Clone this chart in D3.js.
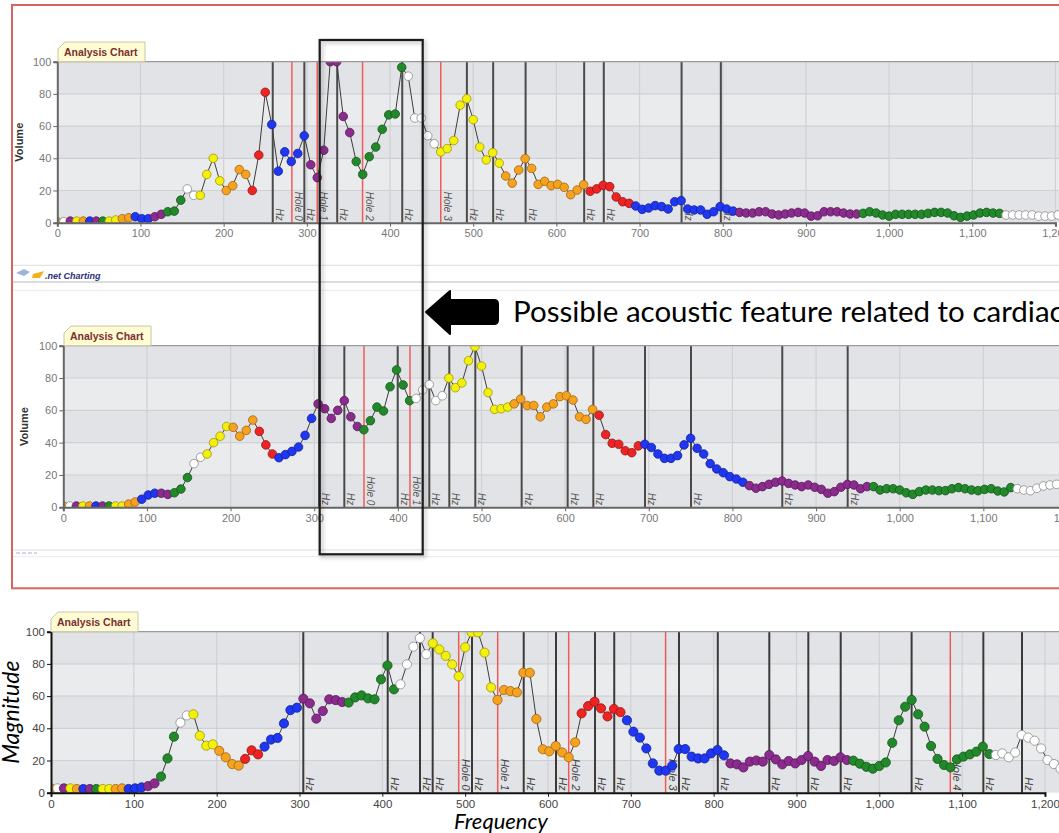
<!DOCTYPE html>
<html><head><meta charset="utf-8">
<script src="https://cdn.jsdelivr.net/npm/d3@7"></script>
<style>
body{margin:0;background:#fff;}
svg{display:block;}
</style></head>
<body>
<svg id="chart" width="1059" height="833"></svg>
<script>
// ---------------- DATA ----------------
const binStepHz = 7.8125;
const pointClass = ["OWPYOBPGYYOOBBBPPGGGWW","YYYY","OOOO","RRR","BBBBBB","PPPPPPP","GGGGGGGG","WWWWW",
  "YYYYYYYYYY","OOOOOOOOOOOOO","RRRRRRR","BBBBBBBBBBBBBBBB","PPPPPPPPPPPPPPPPPPP",
  "GGGGGGGGGGGGGGGGGGGGGG","WWWWWWWWWWW"].join("").split("");

const volume1 = [0.6,0.6,1,1,1,1,1,1,1,1.7,2.5,3.1,3.7,2.5,2.5,3.7,5.2,6.8,7.2,14,
  21,17,17,30,40,26,20,23,33,30,20,42,81,61,32,44,38,43,54,36,
  28,45,100,100,66,56,38,30,41,47,58,67,67.5,96.5,91,65,65,54,49,44,
  46,51,73,77,64,47,39,43.5,37,29,24.6,32.7,39.8,33.7,23.8,25.7,23,23.8,22,17.4,
  20.3,23.6,19.5,21,23.2,22.4,16,13,12,10.4,8.3,9.1,10.6,10,8.5,13,13.7,8.5,7.9,7.9,
  5.2,6.8,10,8.5,7.2,6.4,6,6,6.8,6.8,5.4,4.8,5.4,6,6.4,6,4.1,4.3,6.8,6.8,
  6.8,6,5.4,5.4,5.8,6.8,6,4.8,4.1,5.2,5.2,5.2,5.2,5.2,5.8,6.4,6.4,6,4.3,3.3,
  4.1,4.8,6,6.4,6,5.8,4.8,4.8,4.8,4.8,4.8,4.1,4.1,4.1,4.8];

const volume2 = [0.8,0.8,0.8,0.8,0.8,0.8,0.8,0.8,0.8,0.8,2,3.3,5,7.6,8.7,8.7,8,9,11.3,18.4,
  27,31,33,40,44,50,49.5,44,47.6,54,47,38.6,33,30.7,32.6,34.6,37.3,44.5,55,64,
  61,55,60,66,56,50,48,53.6,62,59.6,74.6,85,75.7,66,67.4,72.6,76,66,69,80,
  74,77,90.7,99.4,87.4,71,60.6,61,62,64,67,63,63,56,62,64,68.5,69,66.4,56,
  54.4,60.6,57,45,39.6,39,35,33.8,38,39,37,33,30.3,30.3,32,38.6,42.7,36.5,33,27,
  23.7,21.4,19,17.5,15.5,13.4,11.8,12.8,14.2,15.5,16.3,14.8,13.8,12.8,13.8,12.4,11.1,8.7,9.7,12.4,
  14.2,13.8,11.5,12.8,12.8,10.7,11.5,11.5,10.7,9,8,9.7,10.7,10.7,10.3,10.3,11.5,12.2,11.5,10.7,
  10.3,11.1,11.5,10.1,9.5,12.2,11.5,10.7,10.3,11.8,13.2,13.8,14.2];

const magnitude3 = [2.7,2.7,2.7,2.7,2.3,2.3,2.3,2.3,2.3,2.3,2.3,2.7,2.3,2.7,3.3,4.1,5.8,10,21.3,34.8,
  43.5,48,48.7,35.4,29.2,30,26,22,17.8,16.8,21,26.3,23.8,28.6,33,34,43,51.3,52.8,58.4,
  55.5,46,50.7,58,57.5,56.3,56,59.2,60.4,58.6,58,70.4,79,64.2,67.3,79.7,90.7,96,86,92.8,
  89,85,79.7,72.3,90.3,99.6,99.6,87,65.4,57.6,63.8,63.1,62.3,74.5,74.5,45.8,27,25.7,29,25,
  22,31.3,49.3,53.8,56.5,52.4,47.4,52,50,45,37.9,34.2,27.5,18.2,13.7,13.7,16.8,27.1,27.1,22.4,
  21.3,21.3,24.4,26.5,23.2,18.2,17.6,15.7,19.3,20,19.3,23.4,20.7,17.6,19.7,18.2,20.3,22.8,19.3,16.6,
  20.3,19.7,22,20.3,19.9,18,16.1,14.9,16.6,18.8,31,45,53.4,57.6,48.7,41,29,21,17.2,15.7,
  20.7,22.4,23.8,25.5,28.6,24,23.4,24.4,22,25,35.8,34.2,32.3,27.5,20.3,17.8,15];

const markers1Hz = [259,282,297,312.5,336.5,367,414.7,461,492.4,524,563,633.4,657,750.5,797.7];
const markers1Label = ["Hz","Hole 0","Hz","Hole 1","Hz","Hole 2","Hz","Hole 3","Hz","Hz","Hz","Hz","Hz","Hz","Hz"];
const markers2Hz = [306,336,359.5,399.8,414.5,437.6,461.5,492.6,548,603,633.7,695.5,750.5,859.6,937.8];
const markers2Label = ["Hz","Hz","Hole 0","Hz","Hole 1","Hz","Hz","Hz","Hz","Hz","Hz","Hz","Hz","Hz","Hz"];
const markers3Hz = [304.6,406.5,445.5,460.8,492.2,508.3,539.3,570.7,609.7,625,656.8,680,742,758.2,805,867.2,914.3,953.4,1039,1085.7,1125.6,1172.3];
const markers3Label = ["Hz","Hz","Hz","Hz","Hole 0","Hz","Hole 1","Hz","Hz","Hole 2","Hz","Hz","Hole 3","Hz","Hz","Hz","Hz","Hz","Hz","Hole 4","Hz","Hz"];

const yTicks = [0,20,40,60,80,100];
const xTicks = [0,100,200,300,400,500,600,700,800,900,1000,1100,1200];
const tabTitle = "Analysis Chart";
const annotation = "Possible acoustic feature related to cardiac";

// ---------------- STYLE / LAYOUT ----------------
const classColor = {O:"#f7a21e",W:"#ffffff",P:"#8b2b8d",Y:"#f4f00c",B:"#1f36f2",G:"#22892b",R:"#ee2323"};
const svg = d3.select("#chart");
const defs = svg.append("defs");
const sh = defs.append("filter").attr("id","shadow").attr("x","-10%").attr("y","-10%").attr("width","130%").attr("height","130%");
sh.append("feDropShadow").attr("dx",2).attr("dy",2).attr("stdDeviation",2).attr("flood-color","#000").attr("flood-opacity",0.3);

const panels = [
  {values:volume1, mHz:markers1Hz, mLab:markers1Label, left:57.3, top:61.7, bottom:222.7, pxPerHz:0.8318,
   tabX:58, tabTop:42, yTitle:"Volume", yTitleX:19.5, r:4.3, tickColor:"#777", tickSize:11, axisColor:"#666", labSize:10, labColor:"#555", hzColor:"#4a4a4a"},
  {values:volume2, mHz:markers2Hz, mLab:markers2Label, left:63.3, top:345.7, bottom:507.3, pxPerHz:0.8364,
   tabX:64, tabTop:326, yTitle:"Volume", yTitleX:24.5, r:4.3, tickColor:"#777", tickSize:11, axisColor:"#666", labSize:10, labColor:"#555", hzColor:"#4a4a4a"},
  {values:magnitude3, mHz:markers3Hz, mLab:markers3Label, left:51, top:631.7, bottom:792.7, pxPerHz:0.8283,
   tabX:51, tabTop:612, yTitle:null, r:4.6, tickColor:"#444", tickSize:11.5, axisColor:"#111", labSize:11, labColor:"#444", hzColor:"#3a3a3a"}
];

panels.forEach((p,pi)=>{
  const right = 1120;
  const x = d3.scaleLinear().domain([0,1200]).range([p.left, p.left + 1200*p.pxPerHz]);
  const y = d3.scaleLinear().domain([0,100]).range([p.bottom, p.top]);
  const g = svg.append("g");
  const clipId = "clip"+pi;
  defs.append("clipPath").attr("id",clipId).append("rect")
    .attr("x",p.left).attr("y",p.top).attr("width",right-p.left).attr("height",p.bottom-p.top);

  // bands
  g.selectAll(".band").data(d3.range(0,100,20)).join("rect")
    .attr("x",p.left).attr("width",right-p.left)
    .attr("y",d=>y(d+20)).attr("height",d=>y(d)-y(d+20))
    .attr("fill",d=>((d/20)%2===0)?"#e2e3e6":"#e9ebed");
  // grid
  g.selectAll(".vg").data(xTicks.slice(1)).join("line")
    .attr("x1",d=>x(d)).attr("x2",d=>x(d)).attr("y1",p.top).attr("y2",p.bottom)
    .attr("stroke","#d0d1d4").attr("stroke-width",1.2);
  g.selectAll(".hg").data(yTicks.slice(1,5)).join("line")
    .attr("x1",p.left).attr("x2",right).attr("y1",d=>y(d)).attr("y2",d=>y(d))
    .attr("stroke","#cfd0d3").attr("stroke-width",1.2);

  // markers
  const mk = p.mHz.map((f,i)=>({f, lab:p.mLab[i], hole:p.mLab[i].startsWith("Hole")}));
  g.selectAll(".mk").data(mk).join("line")
    .attr("x1",d=>x(d.f)).attr("x2",d=>x(d.f)).attr("y1",p.top).attr("y2",p.bottom)
    .attr("stroke",d=>d.hole?"#f25a5a":p.hzColor).attr("stroke-width",d=>d.hole?1.5:2);
  g.selectAll(".mkl").data(mk).join("text")
    .attr("transform",d=>`translate(${x(d.f)+3},${p.bottom-2}) rotate(90)`)
    .attr("text-anchor","end")
    .attr("font-family","Liberation Sans, Arial, sans-serif")
    .attr("font-style","italic").attr("font-size",p.labSize).attr("fill",p.labColor)
    .text(d=>d.lab);

  // data
  const pts = p.values.map((v,i)=>({f:i*binStepHz, v, c:pointClass[i]}));
  const pg = g.append("g").attr("clip-path",`url(#${clipId})`);
  pg.append("path").datum(pts)
    .attr("d", d3.line().x(d=>x(d.f)).y(d=>y(d.v)))
    .attr("fill","none").attr("stroke","#3c3c3c").attr("stroke-width",1);
  pg.selectAll("circle").data(pts).join("circle")
    .attr("cx",d=>x(d.f)).attr("cy",d=>y(d.v)).attr("r",p.r)
    .attr("fill",d=>classColor[d.c])
    .attr("stroke",d=>d.c==="W"?"#8a8a8a":d3.color(classColor[d.c]).darker(1.3))
    .attr("stroke-width",0.8);

  // top border
  g.append("line").attr("x1",p.left).attr("x2",right).attr("y1",p.top).attr("y2",p.top)
    .attr("stroke","#9a9a9a").attr("stroke-width",1.2);

  // axes
  const yAx = g.append("g").attr("transform",`translate(${p.left},0)`)
    .call(d3.axisLeft(y).tickValues(yTicks).tickSize(4).tickPadding(2));
  yAx.select(".domain").attr("stroke",p.axisColor).attr("stroke-width",2);
  yAx.selectAll(".tick line").attr("stroke",p.axisColor);
  yAx.selectAll("text").attr("fill",p.tickColor).attr("font-size",p.tickSize)
    .attr("font-family","Liberation Sans, Arial, sans-serif");
  const xAx = g.append("g").attr("transform",`translate(0,${p.bottom})`)
    .call(d3.axisBottom(x).tickValues(xTicks).tickSize(4).tickPadding(3).tickFormat(d3.format(",")));
  xAx.select(".domain").attr("stroke",p.axisColor).attr("stroke-width",2);
  xAx.selectAll(".tick line").attr("stroke",p.axisColor);
  xAx.selectAll("text").attr("fill",p.tickColor).attr("font-size",p.tickSize)
    .attr("font-family","Liberation Sans, Arial, sans-serif");

  // tab
  const tw = 87, th = p.top - p.tabTop;
  g.append("path")
    .attr("d",`M${p.tabX},${p.tabTop+7} L${p.tabX+7},${p.tabTop} L${p.tabX+tw},${p.tabTop} L${p.tabX+tw},${p.top} L${p.tabX},${p.top} Z`)
    .attr("fill","#fffbd3").attr("stroke","#c9c6a8").attr("stroke-width",1);
  g.append("text").attr("x",p.tabX+6).attr("y",p.tabTop+th/2+4)
    .attr("font-family","Liberation Sans, Arial, sans-serif").attr("font-weight","bold")
    .attr("font-size",10.5).attr("fill","#7a2f2f").text(tabTitle);

  if(p.yTitle){
    g.append("text").attr("transform",`translate(${p.yTitleX},${(p.top+p.bottom)/2}) rotate(-90)`)
      .attr("text-anchor","middle").attr("dy","0.35em")
      .attr("font-family","Liberation Sans, Arial, sans-serif").attr("font-weight","bold")
      .attr("font-size",11).attr("fill","#333").text(p.yTitle);
  }
});

// panel 3 titles
svg.append("text").attr("transform",`translate(19,${(631.7+792.7)/2}) rotate(-90)`)
  .attr("text-anchor","middle").attr("font-family","Lato, 'Open Sans', sans-serif")
  .attr("font-style","italic").attr("font-size",23).attr("fill","#000").text("Magnitude");
svg.append("text").attr("x",501).attr("y",829).attr("text-anchor","middle")
  .attr("font-family","Lato, 'Open Sans', sans-serif")
  .attr("font-style","italic").attr("font-size",22).attr("fill","#000").text("Frequency");

// separators and logo areas
[[265.3,"#e2e2e2"],[282,"#b9b9b9"],[290.3,"#eeeeee"],[550,"#dddddd"],[556.7,"#eeeeee"]].forEach(([yy,c])=>{
  svg.append("line").attr("x1",13).attr("x2",1059).attr("y1",yy).attr("y2",yy).attr("stroke",c).attr("stroke-width",1.2);
});
const logo = svg.append("g");
logo.append("path").attr("d","M16,273 L24,269 L30,272 L24,276 Z").attr("fill","#9fb3d9");
logo.append("path").attr("d","M33,274 L44,271 L40,278 L32,278 Z").attr("fill","#f2b21c");
logo.append("text").attr("x",45).attr("y",279).attr("font-family","Liberation Sans, Arial, sans-serif")
  .attr("font-style","italic").attr("font-weight","bold").attr("font-size",9).attr("fill","#2b2f7c").text(".net Charting");
logo.append("line").attr("x1",16).attr("x2",37).attr("y1",553).attr("y2",553).attr("stroke","#c4c8f0").attr("stroke-width",1.5).attr("stroke-dasharray","4,2");

// red frame
svg.append("rect").attr("x",12).attr("y",5).attr("width",1100).attr("height",583.3)
  .attr("fill","none").attr("stroke","#d4665f").attr("stroke-width",2);

// highlight rectangle
svg.append("rect").attr("x",319.7).attr("y",40).attr("width",103).attr("height",514.3)
  .attr("fill","none").attr("stroke","#1c1c1c").attr("stroke-width",2.2).attr("filter","url(#shadow)");

// arrow + annotation
svg.append("path")
  .attr("d","M426,312 L450,291 L450,300 L494,300 Q498,300 498,304 L498,320 Q498,324 494,324 L450,324 L450,334 Z")
  .attr("fill","#000").attr("stroke","#000").attr("stroke-width",2).attr("stroke-linejoin","round");
svg.append("text").attr("x",513).attr("y",322).attr("font-family","Lato, 'Open Sans', sans-serif")
  .attr("font-size",29.5).attr("fill","#000").text(annotation);
</script>
</body></html>
